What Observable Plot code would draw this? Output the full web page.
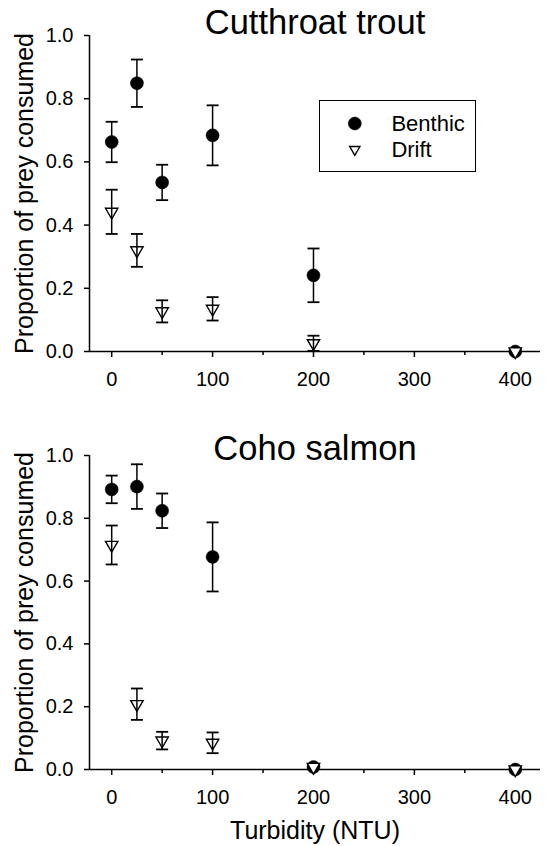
<!DOCTYPE html>
<html>
<head>
<meta charset="utf-8">
<script src="https://cdn.jsdelivr.net/npm/d3@7"></script>
<script src="https://cdn.jsdelivr.net/npm/@observablehq/plot@0.6"></script>
<style>
  body { margin: 0; background: #fff; }
  #wrap { position: relative; width: 548px; height: 846px; font-family: "Liberation Sans", Arial, sans-serif; }
  #wrap svg { display: block; }
  #legend { position: absolute; left: 319px; top: 100px; width: 157px; height: 72px;
            border: 1.5px solid #000; box-sizing: border-box; background: #fff; }
</style>
</head>
<body>
<div id="wrap"></div>
<script>
// ---- data ----
const turbidity = [0, 25, 50, 100, 200, 400];

const cutthroatBenthic   = [0.663, 0.849, 0.535, 0.684, 0.241, 0];
const cutthroatBenthicSE = [0.064, 0.075, 0.056, 0.095, 0.085, 0];
const cutthroatDrift     = [0.442, 0.320, 0.127, 0.135, 0.026, 0];
const cutthroatDriftSE   = [0.070, 0.052, 0.035, 0.037, 0.024, 0];

const cohoBenthic   = [0.892, 0.901, 0.824, 0.677, 0.008, 0];
const cohoBenthicSE = [0.044, 0.071, 0.055, 0.110, 0, 0];
const cohoDrift     = [0.715, 0.208, 0.092, 0.085, 0.008, 0];
const cohoDriftSE   = [0.062, 0.050, 0.028, 0.033, 0, 0];

const panelTitles = ["Cutthroat trout", "Coho salmon"];
const seriesNames = ["Benthic", "Drift"];
const xTicks = [0, 100, 200, 300, 400];
const xMinorTicks = [50, 150, 250, 350];
const yTicks = [0, 0.2, 0.4, 0.6, 0.8, 1.0];
const xDomain = [-22, 425];
const yDomain = [0, 1];
const yLabel = "Proportion of prey consumed";
const xLabel = "Turbidity (NTU)";

// ---- helpers ----
const FONT = "'Liberation Sans', Arial, sans-serif";
const rows = (series, means, ses) => turbidity.map((t, i) => ({x: t, y: means[i], se: ses[i], series}));

const triDown = {
  draw(context, size) {
    const y = Math.sqrt(size / (Math.sqrt(3) * 3));
    context.moveTo(0, 2 * y);
    context.lineTo(-Math.sqrt(3) * y, -y);
    context.lineTo(Math.sqrt(3) * y, -y);
    context.closePath();
  }
};
const hline = {
  draw(context, size) {
    const w = Math.sqrt(size / Math.PI);
    context.moveTo(-w, 0);
    context.lineTo(w, 0);
  }
};

function errorMarks(data) {
  const bars = data.filter(d => d.se > 0);
  return [
    Plot.ruleX(bars, {x: "x", y1: d => d.y - d.se, y2: d => d.y + d.se, stroke: "#000", strokeWidth: 1.5}),
    Plot.dot(bars, {x: "x", y: d => d.y + d.se, symbol: hline, r: 6, stroke: "#000", strokeWidth: 1.8, fill: "none"}),
    Plot.dot(bars, {x: "x", y: d => d.y - d.se, symbol: hline, r: 6, stroke: "#000", strokeWidth: 1.8, fill: "none"})
  ];
}

function panel({title, titleDy, benthic, drift, height, marginBottom, showXLabel}) {
  return Plot.plot({
    width: 548,
    height,
    marginLeft: 89,
    marginRight: 8,
    marginTop: 35,
    marginBottom,
    style: {fontFamily: FONT, fontSize: "20px", color: "#000", background: "#fff", overflow: "visible"},
    x: {domain: xDomain},
    y: {domain: yDomain},
    marks: [
      Plot.ruleY([yDomain[0]], {stroke: "#000", strokeWidth: 1.5}),
      Plot.ruleX([xDomain[0]], {y1: yDomain[0], y2: yDomain[1], stroke: "#000", strokeWidth: 1.5}),
      Plot.axisX({ticks: xTicks, tickSize: 6, tickPadding: 14, tickFormat: d => String(d), label: null, strokeWidth: 1.5, fontSize: 20}),
      Plot.axisX({ticks: xMinorTicks, tickSize: 4, tickFormat: () => "", label: null, strokeWidth: 1.5}),
      Plot.axisY({ticks: yTicks, tickSize: 5, tickPadding: 11, tickFormat: d3.format(".1f"), label: null, strokeWidth: 1.5, fontSize: 20}),
      Plot.text([title], {frameAnchor: "top", dy: titleDy, lineAnchor: "bottom", fontSize: 34.5, fill: "#000"}),
      Plot.text([yLabel], {frameAnchor: "left", textAnchor: "middle", rotate: -90, dx: -57, lineAnchor: "bottom", fontSize: 25, fill: "#000"}),
      showXLabel ? Plot.text([xLabel], {frameAnchor: "bottom", dy: 69, lineAnchor: "bottom", fontSize: 25, fill: "#000"}) : null,
      ...errorMarks(benthic),
      Plot.dot(benthic, {x: "x", y: "y", r: 6.5, fill: "#000", stroke: "#000", strokeWidth: 0.5}),
      Plot.dot(drift, {x: "x", y: "y", r: 4.6, symbol: triDown, fill: "#fff", stroke: "#000", strokeWidth: 1.4}),
      ...errorMarks(drift)
    ]
  });
}

const wrap = document.getElementById("wrap");

wrap.append(panel({
  title: panelTitles[0], titleDy: -2,
  benthic: rows(seriesNames[0], cutthroatBenthic, cutthroatBenthicSE),
  drift: rows(seriesNames[1], cutthroatDrift, cutthroatDriftSE),
  height: 420, marginBottom: 69, showXLabel: false
}));

wrap.append(panel({
  title: panelTitles[1], titleDy: 4,
  benthic: rows(seriesNames[0], cohoBenthic, cohoBenthicSE),
  drift: rows(seriesNames[1], cohoDrift, cohoDriftSE),
  height: 426, marginBottom: 77, showXLabel: true
}));

// legend box (drawn with Plot inside a bordered div)
const legendDiv = document.createElement("div");
legendDiv.id = "legend";
legendDiv.append(Plot.plot({
  width: 154, height: 69, margin: 0,
  style: {fontFamily: FONT, background: "transparent", overflow: "visible"},
  y: {type: "point", domain: seriesNames, range: [21.8, 48.5], padding: 0, axis: null},
  marks: [
    Plot.dot([seriesNames[0]], {y: d => d, frameAnchor: "left", dx: 34.3, r: 6.5, fill: "#000", stroke: "#000", strokeWidth: 0.5}),
    Plot.dot([seriesNames[1]], {y: d => d, frameAnchor: "left", dx: 34.3, r: 3.8, symbol: triDown, fill: "#fff", stroke: "#000", strokeWidth: 1.4}),
    Plot.text(seriesNames, {y: d => d, frameAnchor: "left", textAnchor: "start", dx: 70.9, fontSize: 22, fill: "#000"})
  ]
}));
wrap.append(legendDiv);
</script>
</body>
</html>
